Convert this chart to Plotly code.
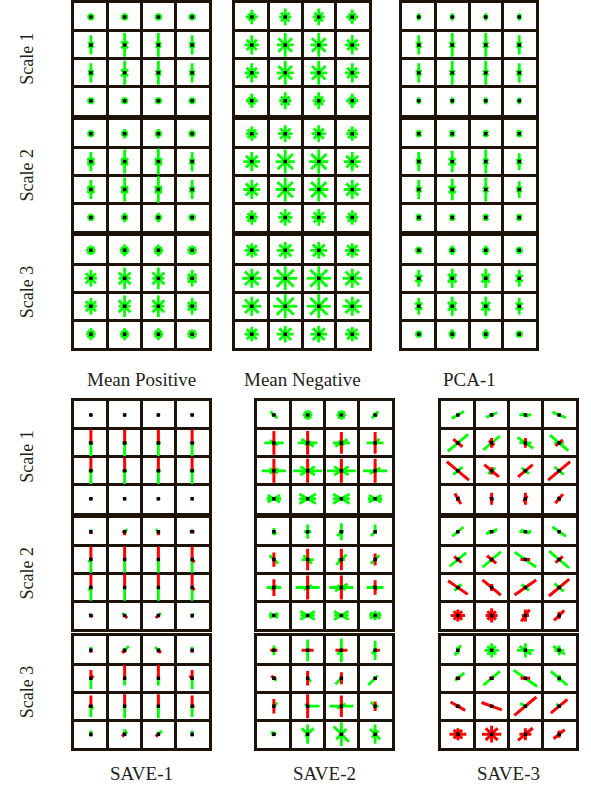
import math
import plotly.graph_objects as go

# ---------------- data ----------------
PANELS = ["Mean Positive", "Mean Negative", "PCA-1", "SAVE-1", "SAVE-2", "SAVE-3"]
SCALES = ["Scale 1", "Scale 2", "Scale 3"]

# Each cell: tokens "angle:value" (line through centre) or "angle>value" (ray from centre).
# value > 0 -> positive weight (green), value < 0 -> negative weight (red); |value| = magnitude.
MEAN_POS_S1 = [
    ["0:3 45:3 90:3 135:3", "0:3 45:3 90:3 135:3", "0:3 45:3 90:3 135:3", "0:3 45:3 90:3 135:3"],
    ["90:8 45:3 135:3 0:2", "90:10 45:4 135:4 0:2", "90:10 45:3 135:3 0:2", "90:8 45:3 135:3 0:2"],
    ["90:8 45:3 135:3 0:2", "90:10 45:4 135:4 0:2", "90:10 45:3 135:3 0:2", "90:8 45:3 135:3 0:2"],
    ["0:3 45:3 90:3 135:3", "0:3 45:3 90:3 135:3", "0:3 45:3 90:3 135:3", "0:3 45:3 90:3 135:3"],
]
MEAN_POS_S2 = [
    ["0:3 45:3 90:3 135:3", "0:3 45:3 90:4 135:3", "0:3 45:3 90:4 135:3", "0:3 45:3 90:3 135:3"],
    ["90:8 45:4 135:4 0:3", "90:10 45:4 135:4 0:3", "90:11 45:4 135:4 0:3", "90:8 45:3 135:3 0:2"],
    ["90:8 45:4 135:4 0:3", "90:10 45:4 135:4 0:3", "90:11 45:4 135:4 0:3", "90:8 45:3 135:3 0:2"],
    ["0:3 45:3 90:3 135:3", "0:3 45:3 90:4 135:3", "0:3 45:3 90:4 135:3", "0:3 45:3 90:3 135:3"],
]
MEAN_POS_S3 = [
    ["0:4 45:4 90:4 135:4", "0:4 45:4 90:5 135:4", "0:4 45:4 90:5 135:4", "0:4 45:4 90:4 135:4"],
    ["90:7 45:6 135:6 0:5", "90:9 45:7 135:7 0:5", "90:9 45:7 135:7 0:5", "90:7 45:5 135:5 0:4"],
    ["90:7 45:6 135:6 0:5", "90:9 45:7 135:7 0:5", "90:9 45:7 135:7 0:5", "90:7 45:5 135:5 0:4"],
    ["0:4 45:4 90:5 135:4", "0:4 45:4 90:5 135:4", "0:4 45:4 90:5 135:4", "0:4 45:4 90:4 135:4"],
]
MEAN_NEG_S1 = [
    ["0:5 45:4 90:6 135:4", "0:5 45:5 90:7 135:5", "0:5 45:5 90:7 135:5", "0:5 45:4 90:6 135:4"],
    ["0:6 45:6 90:8 135:6", "0:7 45:8 90:10 135:8", "0:7 45:8 90:10 135:8", "0:6 45:6 90:8 135:6"],
    ["0:6 45:6 90:8 135:6", "0:7 45:8 90:10 135:8", "0:7 45:8 90:10 135:8", "0:6 45:6 90:8 135:6"],
    ["0:5 45:4 90:6 135:4", "0:5 45:5 90:7 135:5", "0:5 45:5 90:7 135:5", "0:5 45:4 90:6 135:4"],
]
MEAN_NEG_S2 = [
    ["0:5 45:5 90:6 135:5", "0:6 45:6 90:7 135:6", "0:6 45:6 90:7 135:6", "0:5 45:5 90:6 135:5"],
    ["0:7 45:7 90:8 135:7", "0:8 45:9 90:10 135:9", "0:8 45:9 90:10 135:9", "0:7 45:7 90:8 135:7"],
    ["0:7 45:7 90:8 135:7", "0:8 45:9 90:10 135:9", "0:8 45:9 90:10 135:9", "0:7 45:7 90:8 135:7"],
    ["0:5 45:5 90:6 135:5", "0:6 45:6 90:7 135:6", "0:6 45:6 90:7 135:6", "0:5 45:5 90:6 135:5"],
]
MEAN_NEG_S3 = [
    ["0:6 45:6 90:6 135:6", "0:7 45:7 90:7 135:7", "0:7 45:7 90:7 135:7", "0:6 45:6 90:6 135:6"],
    ["0:8 45:8 90:8 135:8", "0:10 45:10 90:10 135:10", "0:10 45:10 90:10 135:10", "0:8 45:8 90:8 135:8"],
    ["0:8 45:8 90:8 135:8", "0:10 45:10 90:10 135:10", "0:10 45:10 90:10 135:10", "0:8 45:8 90:8 135:8"],
    ["0:6 45:6 90:6 135:6", "0:7 45:7 90:7 135:7", "0:7 45:7 90:7 135:7", "0:6 45:6 90:6 135:6"],
]
PCA1_S1 = [
    ["0:2 45:2 90:3 135:2", "0:2 45:2 90:3 135:2", "0:2 45:2 90:3 135:2", "0:2 45:2 90:3 135:2"],
    ["90:8 45:3 135:3", "90:10 45:3 135:3", "90:10 45:3 135:3", "90:8 45:3 135:3"],
    ["90:8 45:3 135:3", "90:10 45:3 135:3", "90:10 45:3 135:3", "90:8 45:3 135:3"],
    ["0:2 45:2 90:3 135:2", "0:2 45:2 90:3 135:2", "0:2 45:2 90:3 135:2", "0:2 45:2 90:3 135:2"],
]
PCA1_S2 = [
    ["0:2 45:3 90:3 135:3", "0:2 45:3 90:3 135:3", "0:2 45:3 90:3 135:3", "0:2 45:3 90:3 135:3"],
    ["90:8 45:3 135:3 0:2", "90:9 45:4 135:4 0:2", "90:10 45:3 135:3", "90:7 45:3 135:3"],
    ["90:8 45:3 135:3 0:2", "90:9 45:4 135:4 0:2", "90:10 45:3 135:3", "90:7 45:3 135:3"],
    ["0:2 45:3 90:3 135:3", "0:2 45:3 90:3 135:3", "0:2 45:3 90:3 135:3", "0:2 45:3 90:3 135:3"],
]
PCA1_S3 = [
    ["0:3 45:3 90:3 135:3", "0:3 45:3 90:4 135:3", "0:3 45:3 90:4 135:3", "0:3 45:3 90:3 135:3"],
    ["90:7 45:4 135:4 0:2", "90:8 45:5 135:5 0:3", "90:8 45:5 135:5 0:3", "90:7 45:4 135:4"],
    ["90:7 45:4 135:4 0:2", "90:8 45:5 135:5 0:3", "90:8 45:5 135:5 0:3", "90:7 45:4 135:4"],
    ["0:3 45:3 90:3 135:3", "0:3 45:3 90:4 135:3", "0:3 45:3 90:4 135:3", "0:3 45:3 90:3 135:3"],
]
SAVE1_S1 = [
    ["45:-1 135:1", "45:1 135:-1", "45:1 135:-1", "45:-1 135:1"],
    ["90>-11 270>11 0:2", "90>-11 270>11 0:2", "90>-11 270>11 0:2", "90>-11 270>11 0:2"],
    ["90>-11 270>11 0:2", "90>-11 270>11 0:2", "90>-11 270>11 0:2", "90>-11 270>11 0:2"],
    ["45:1 135:-1", "45:-1 135:1", "45:1 135:-1", "45:-1 135:1"],
]
SAVE1_S2 = [
    ["90>2 270>-2", "45>3 270>-3 200>-2", "135>3 270>-3", "0:-2 90>2"],
    ["90>-11 270>11 225>3", "90>-11 270>11", "90>-11 270>11", "90>-11 270>11 315>-3"],
    ["90>-11 270>11 225>3", "90>-11 270>11", "90>-11 270>11", "90>-11 270>11 315>-3"],
    ["135>2 315>-2", "135>3 315>-3", "45>3 225>-3", "45>2 270>-2"],
]
SAVE1_S3 = [
    ["90>3 270>-2 0:-1", "45>5 135>2 225>-3 270>-2", "135>4 45>2 315>-3 270>-2", "90>3 270>-2"],
    ["90>-7 270>9 45>-3", "90>-11 270>6", "90>-11 270>6", "90>-7 270>9 135>-3"],
    ["90>-9 270>9 315>3 180>-2", "90>-10 270>10", "90>-10 270>10", "90>-9 270>9 0>-2"],
    ["90>3 270>-2", "90>4 45>3 225>-3 180>-2", "45>4 90>2 225>-3", "90>3 270>-2"],
]
SAVE2_S1 = [
    ["135:4 0:2", "0:4 45:4 90:4 135:4", "0:4 45:4 90:4 135:4", "45:4 0:2 135:2"],
    ["90:-10 0:8 150:4", "90:-10 0:8 150:6 30:3", "90:-9 0:7 30:6 150:3", "90:-9 0:7 45>5"],
    ["90:-10 0:10 30:4 150:4", "90:-10 0:12 30:7 150:7", "90:-10 0:12 30:7 150:7", "90:-10 0:10 30:5"],
    ["0:6 30:6 150:6", "0:7 30:8 150:8", "0:7 30:8 150:8", "0:6 30:6 150:6"],
]
SAVE2_S2 = [
    ["90:3 315>3", "90:6 0:3 30:2", "90:7 225>5 0:2", "90>6 225>5 270>2"],
    ["90:-6 135:5", "90:-9 0:5 135:5", "90:-9 45:6 0:3", "90:-5 45:5"],
    ["90:-7 0:6 30:3", "90:-10 0:10 30:4", "90:-10 0:10 30:6 150:4", "90:-6 0:7 150:3"],
    ["0:4 30:4 150:4", "0:6 30:7 150:7", "0:6 30:7 150:7", "0:5 30:5 150:5 90:4"],
]
SAVE2_S3 = [
    ["0:-3 90:4", "0:-5 90:9", "0:-5 90:10 225>5", "90:8 0>-4 225>4"],
    ["135>-3 90>-2 0>-2 315>3", "90:-6 315>4", "90:-5 225>7", "225>8 45>3"],
    ["90:-6 45>4", "90:-10 0>10 135>3", "90:-9 0:10 30:4", "135>5 90:-4 0>3"],
    ["135>3 0:2 45:2", "90:8 45>7 135>7 225>3", "90:10 135:9 45:6", "90:8 135:6 45:4"],
]
SAVE3_S1 = [
    ["30:6", "22:5 0:2", "0:5 157:3", "157:6"],
    ["40:11 140:-5", "40:9 90:-4 140:-3", "145:8 0:5 90:-4", "140:10 40:-4 0:4"],
    ["140:-12 40:5", "140:-8 40:4 90:-3", "40:-8 140:4", "40:-12 140:5"],
    ["120:-5 90:-2", "90:-5 135:-2", "90:-5 60:-3", "50:-5 90:-2"],
]
SAVE3_S2 = [
    ["40:6", "22:5 0:3", "0:5 157:4", "145:7"],
    ["40:9 140:-4", "40:10 140:-5 90:-2", "145:11 0:-4", "140:11 40:-4"],
    ["145:-10 40:4", "140:-10 90:-3", "35:-11 140:4", "40:-11 140:5"],
    ["0:-6 90:-5 45:-5 135:-5", "0:-5 90:-6 45:-5 135:-5", "55:-6 90:-5 0:-3", "45:-6 90:-3"],
]
SAVE3_S3 = [
    ["60:5 90:3", "0:6 90:6 45:5 135:5", "0:7 90:6 145:6", "145:6 90:4 0:4"],
    ["40>7 220>3 0:-2", "40:9 0:-2", "145:12 0:-4", "140:9 90:3"],
    ["150:-7 0:-2", "160:-9", "40:-12 150>5", "40:-9 140>3"],
    ["0:-7 90:-5 45:-5 135:-5", "0:-8 90:-7 45:-7 135:-7", "40:-8 0:-5 90:-5", "40:-6 90:-3"],
]

GLYPHS = {
    "Mean Positive": [MEAN_POS_S1, MEAN_POS_S2, MEAN_POS_S3],
    "Mean Negative": [MEAN_NEG_S1, MEAN_NEG_S2, MEAN_NEG_S3],
    "PCA-1": [PCA1_S1, PCA1_S2, PCA1_S3],
    "SAVE-1": [SAVE1_S1, SAVE1_S2, SAVE1_S3],
    "SAVE-2": [SAVE2_S1, SAVE2_S2, SAVE2_S3],
    "SAVE-3": [SAVE3_S1, SAVE3_S2, SAVE3_S3],
}

# ---------------- layout (pixels) ----------------
FIG_W, FIG_H = 591, 789
PANEL_X = {
    "Mean Positive": (74, 209), "Mean Negative": (235, 369), "PCA-1": (402, 536),
    "SAVE-1": (74, 209), "SAVE-2": (257, 392), "SAVE-3": (441, 576),
}
TOP_ROWS = [(1, 113), (118, 230), (235, 347)]
BOT_ROWS = [(400, 512), (517, 629), (636, 748)]
PANEL_ROWS = {p: (TOP_ROWS if i < 3 else BOT_ROWS) for i, p in enumerate(PANELS)}
TITLE_Y = {"top": 378, "bot": 773}
LEN_SCALE = 1.2

GRID_COLOR = "#1e1308"
GREEN = "#00ff00"
RED = "#ff0000"
N = 4

fig = go.Figure()
layout = {}


def parse(tok):
    if ":" in tok:
        a, v = tok.split(":")
        return float(a), float(v), True
    a, v = tok.split(">")
    return float(a), float(v), False


k = 0
for p in PANELS:
    x0, x1 = PANEL_X[p]
    for s, (y0, y1) in enumerate(PANEL_ROWS[p]):
        k += 1
        xa = "x" if k == 1 else f"x{k}"
        ya = "y" if k == 1 else f"y{k}"
        ukx = N / (x1 - x0)  # data units per pixel
        uky = N / (y1 - y0)
        gx, gy, rx, ry, dx, dy = [], [], [], [], [], []
        grid = GLYPHS[p][s]
        for r in range(N):
            for c in range(N):
                cx = c + 0.5
                cy = N - r - 0.5
                dx.append(cx)
                dy.append(cy)
                for tok in grid[r][c].split():
                    ang, val, is_line = parse(tok)
                    L = abs(val) * LEN_SCALE
                    ex = L * math.cos(math.radians(ang)) * ukx
                    ey = L * math.sin(math.radians(ang)) * uky
                    if is_line:
                        seg_x = [cx - ex, cx + ex, None]
                        seg_y = [cy - ey, cy + ey, None]
                    else:
                        seg_x = [cx, cx + ex, None]
                        seg_y = [cy, cy + ey, None]
                    if val >= 0:
                        gx += seg_x
                        gy += seg_y
                    else:
                        rx += seg_x
                        ry += seg_y
        fig.add_trace(go.Scatter(x=gx, y=gy, mode="lines", line=dict(color=GREEN, width=2.8),
                                 xaxis=xa, yaxis=ya, hoverinfo="skip", showlegend=False))
        fig.add_trace(go.Scatter(x=rx, y=ry, mode="lines", line=dict(color=RED, width=3),
                                 xaxis=xa, yaxis=ya, hoverinfo="skip", showlegend=False))
        fig.add_trace(go.Scatter(x=dx, y=dy, mode="markers",
                                 marker=dict(symbol="square", size=3.5, color="black", line=dict(width=0)),
                                 xaxis=xa, yaxis=ya, hoverinfo="skip", showlegend=False))
        axis_common = dict(range=[0, N], dtick=1, tick0=0, showgrid=True, gridcolor=GRID_COLOR,
                           gridwidth=3, showline=True, mirror=True, linecolor=GRID_COLOR,
                           linewidth=3, zeroline=False, showticklabels=False, ticks="",
                           fixedrange=True)
        layout["xaxis" if k == 1 else f"xaxis{k}"] = dict(
            axis_common, domain=[x0 / FIG_W, x1 / FIG_W], anchor=ya)
        layout["yaxis" if k == 1 else f"yaxis{k}"] = dict(
            axis_common, domain=[1 - y1 / FIG_H, 1 - y0 / FIG_H], anchor=xa)

annotations = []
FONT = "Liberation Serif, Times New Roman, serif"
for rows in (TOP_ROWS, BOT_ROWS):
    for s, (y0, y1) in enumerate(rows):
        annotations.append(dict(text=SCALES[s], x=27 / FIG_W, y=1 - (y0 + y1) / 2 / FIG_H,
                                xref="paper", yref="paper", showarrow=False, textangle=-90,
                                font=dict(family=FONT, size=18, color="#231f20"),
                                xanchor="center", yanchor="middle"))
for i, p in enumerate(PANELS):
    x0, x1 = PANEL_X[p]
    ty = TITLE_Y["top"] if i < 3 else TITLE_Y["bot"]
    annotations.append(dict(text=p, x=(x0 + x1) / 2 / FIG_W, y=1 - ty / FIG_H,
                            xref="paper", yref="paper", showarrow=False,
                            font=dict(family=FONT, size=19, color="#231f20"),
                            xanchor="center", yanchor="middle"))

fig.update_layout(**layout)
fig.update_layout(width=FIG_W, height=FIG_H, autosize=False,
                  margin=dict(l=0, r=0, t=0, b=0),
                  paper_bgcolor="white", plot_bgcolor="white",
                  annotations=annotations)
fig.write_html("out.html", config={"displayModeBar": False, "staticPlot": True},
               post_script="document.body.style.margin='0';")
